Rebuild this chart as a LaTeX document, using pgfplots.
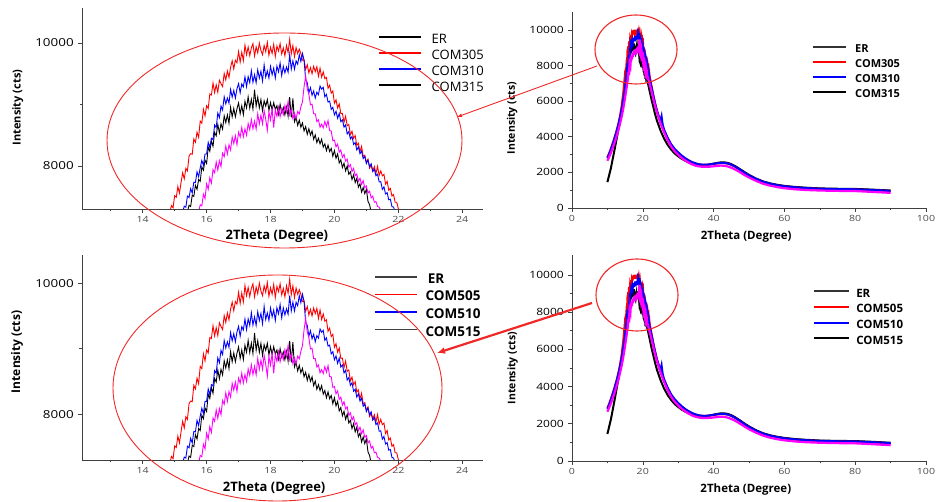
\documentclass[border=0pt]{standalone}
\usepackage{fontspec}
\setmainfont{Open Sans}
\usepackage{pgfplots}
\usepackage{pgfplotstable}
\pgfplotsset{compat=1.18}
\usetikzlibrary{arrows.meta}

% ---------- zoomed data (15-22 deg) ----------
\pgfplotstableread[row sep=\\]{
x y \\
14.85 7250 \\ 14.90 7355 \\ 14.95 7320 \\ 15.00 7515 \\ 15.05 7490 \\ 15.10 7665 \\ 15.15 7560 \\ 15.20 7730 \\
15.25 7890 \\ 15.30 7790 \\ 15.35 7960 \\ 15.40 7920 \\ 15.45 8160 \\ 15.50 8200 \\ 15.55 8190 \\ 15.60 8440 \\
15.65 8385 \\ 15.70 8550 \\ 15.75 8465 \\ 15.80 8730 \\ 15.85 8695 \\ 15.90 8920 \\ 15.95 8815 \\ 16.00 8980 \\
16.05 8935 \\ 16.10 9170 \\ 16.15 9155 \\ 16.20 9350 \\ 16.25 9195 \\ 16.30 9320 \\ 16.35 9200 \\ 16.40 9395 \\
16.45 9340 \\ 16.50 9290 \\ 16.55 9505 \\ 16.60 9400 \\ 16.65 9545 \\ 16.70 9440 \\ 16.75 9605 \\ 16.80 9710 \\
16.85 9580 \\ 16.90 9720 \\ 16.95 9680 \\ 17.00 9860 \\ 17.05 9690 \\ 17.10 9850 \\ 17.15 9715 \\ 17.20 9965 \\
17.25 9810 \\ 17.30 9935 \\ 17.35 9795 \\ 17.40 9920 \\ 17.45 9990 \\ 17.50 9790 \\ 17.55 9940 \\ 17.60 9840 \\
17.65 10000 \\ 17.70 9880 \\ 17.75 9810 \\ 17.80 9960 \\ 17.85 9860 \\ 17.90 10010 \\ 17.95 9800 \\ 18.00 9930 \\
18.05 9830 \\ 18.10 9980 \\ 18.15 9780 \\ 18.20 9950 \\ 18.25 9870 \\ 18.30 9990 \\ 18.35 9820 \\ 18.40 9920 \\
18.45 9790 \\ 18.50 9960 \\ 18.55 9845 \\ 18.60 10060 \\ 18.65 9825 \\ 18.70 9960 \\ 18.75 9780 \\ 18.80 9925 \\
18.85 9830 \\ 18.90 9900 \\ 18.95 9830 \\ 19.00 9720 \\ 19.05 9725 \\ 19.10 9570 \\ 19.15 9645 \\ 19.20 9515 \\
19.25 9600 \\ 19.30 9500 \\ 19.35 9620 \\ 19.40 9535 \\ 19.45 9615 \\ 19.50 9460 \\ 19.55 9590 \\ 19.60 9445 \\
19.65 9530 \\ 19.70 9420 \\ 19.75 9440 \\ 19.80 9265 \\ 19.85 9315 \\ 19.90 9185 \\ 19.95 9220 \\ 20.00 9020 \\
20.05 9075 \\ 20.10 8945 \\ 20.15 9010 \\ 20.20 8850 \\ 20.25 8855 \\ 20.30 8710 \\ 20.35 8810 \\ 20.40 8655 \\
20.45 8675 \\ 20.50 8510 \\ 20.55 8565 \\ 20.60 8450 \\ 20.65 8495 \\ 20.70 8335 \\ 20.75 8370 \\ 20.80 8235 \\
20.85 8320 \\ 20.90 8160 \\ 20.95 8175 \\ 21.00 8060 \\ 21.05 8110 \\ 21.10 7965 \\ 21.15 8015 \\ 21.20 7920 \\
21.25 7990 \\ 21.30 7880 \\ 21.35 7995 \\ 21.40 7845 \\ 21.45 7920 \\ 21.50 7840 \\ 21.55 7865 \\ 21.60 7705 \\
21.65 7750 \\ 21.70 7605 \\ 21.75 7635 \\ 21.80 7510 \\ 21.85 7535 \\ 21.90 7410 \\ 21.95 7410 \\ 22.00 7305 \\
22.05 7280 \\
}\redZ

\pgfplotstableread[row sep=\\]{
x y \\
15.25 7250 \\ 15.30 7345 \\ 15.35 7330 \\ 15.40 7510 \\ 15.45 7485 \\ 15.50 7630 \\ 15.55 7560 \\ 15.60 7735 \\
15.65 7730 \\ 15.70 7905 \\ 15.75 7825 \\ 15.80 7970 \\ 15.85 8090 \\ 15.90 8010 \\ 15.95 8195 \\ 16.00 8195 \\
16.05 8385 \\ 16.10 8300 \\ 16.15 8450 \\ 16.20 8430 \\ 16.25 8665 \\ 16.30 8625 \\ 16.35 8860 \\ 16.40 8785 \\
16.45 8975 \\ 16.50 8910 \\ 16.55 9125 \\ 16.60 9010 \\ 16.65 9105 \\ 16.70 9020 \\ 16.75 9245 \\ 16.80 9120 \\
16.85 9230 \\ 16.90 9105 \\ 16.95 9255 \\ 17.00 9340 \\ 17.05 9190 \\ 17.10 9335 \\ 17.15 9285 \\ 17.20 9450 \\
17.25 9290 \\ 17.30 9455 \\ 17.35 9355 \\ 17.40 9550 \\ 17.45 9360 \\ 17.50 9485 \\ 17.55 9355 \\ 17.60 9565 \\
17.65 9430 \\ 17.70 9540 \\ 17.75 9380 \\ 17.80 9645 \\ 17.85 9445 \\ 17.90 9545 \\ 17.95 9430 \\ 18.00 9620 \\
18.05 9485 \\ 18.10 9590 \\ 18.15 9430 \\ 18.20 9625 \\ 18.25 9530 \\ 18.30 9675 \\ 18.35 9470 \\ 18.40 9620 \\
18.45 9515 \\ 18.50 9610 \\ 18.55 9525 \\ 18.60 9810 \\ 18.65 9575 \\ 18.70 9710 \\ 18.75 9575 \\ 18.80 9710 \\
18.85 9655 \\ 18.90 9810 \\ 18.95 9700 \\ 19.00 9830 \\ 19.05 9720 \\ 19.10 9400 \\ 19.15 9355 \\ 19.20 9190 \\
19.25 9275 \\ 19.30 9150 \\ 19.35 9220 \\ 19.40 9105 \\ 19.45 9200 \\ 19.50 9160 \\ 19.55 9300 \\ 19.60 9250 \\
19.65 9280 \\ 19.70 9125 \\ 19.75 9165 \\ 19.80 9040 \\ 19.85 9055 \\ 19.90 8920 \\ 19.95 8955 \\ 20.00 8830 \\
20.05 8890 \\ 20.10 8775 \\ 20.15 8855 \\ 20.20 8720 \\ 20.25 8750 \\ 20.30 8630 \\ 20.35 8670 \\ 20.40 8520 \\
20.45 8560 \\ 20.50 8440 \\ 20.55 8480 \\ 20.60 8350 \\ 20.65 8380 \\ 20.70 8260 \\ 20.75 8310 \\ 20.80 8200 \\
20.85 8245 \\ 20.90 8120 \\ 20.95 8155 \\ 21.00 8040 \\ 21.05 8095 \\ 21.10 7990 \\ 21.15 8035 \\ 21.20 7910 \\
21.25 7945 \\ 21.30 7840 \\ 21.35 7865 \\ 21.40 7740 \\ 21.45 7745 \\ 21.50 7620 \\ 21.55 7660 \\ 21.60 7545 \\
21.65 7565 \\ 21.70 7450 \\ 21.75 7460 \\ 21.80 7340 \\ 21.85 7330 \\ 21.90 7250 \\
}\blueZ

\pgfplotstableread[row sep=\\]{
x y \\
15.40 7250 \\ 15.45 7360 \\ 15.50 7340 \\ 15.55 7525 \\ 15.60 7505 \\ 15.65 7685 \\ 15.70 7620 \\ 15.75 7780 \\
15.80 7750 \\ 15.85 7985 \\ 15.90 7930 \\ 15.95 8095 \\ 16.00 8040 \\ 16.05 8305 \\ 16.10 8240 \\ 16.15 8405 \\
16.20 8320 \\ 16.25 8545 \\ 16.30 8490 \\ 16.35 8675 \\ 16.40 8540 \\ 16.45 8685 \\ 16.50 8600 \\ 16.55 8815 \\
16.60 8705 \\ 16.65 8830 \\ 16.70 8695 \\ 16.75 8955 \\ 16.80 8800 \\ 16.85 8935 \\ 16.90 8800 \\ 16.95 8930 \\
17.00 9025 \\ 17.05 8850 \\ 17.10 8980 \\ 17.15 8835 \\ 17.20 9050 \\ 17.25 8945 \\ 17.30 9125 \\ 17.35 8940 \\
17.40 9085 \\ 17.45 8925 \\ 17.50 9240 \\ 17.55 8975 \\ 17.60 9120 \\ 17.65 8945 \\ 17.70 9080 \\ 17.75 8895 \\
17.80 9060 \\ 17.85 8975 \\ 17.90 9080 \\ 17.95 8905 \\ 18.00 9030 \\ 18.05 8910 \\ 18.10 9030 \\ 18.15 8920 \\
18.20 8980 \\ 18.25 8840 \\ 18.30 9000 \\ 18.35 8870 \\ 18.40 8950 \\ 18.45 8830 \\ 18.50 8960 \\ 18.55 8810 \\
18.60 9120 \\ 18.65 8790 \\ 18.70 9100 \\ 18.75 8720 \\ 18.80 8790 \\ 18.85 8660 \\ 18.90 8745 \\ 18.95 8630 \\
19.00 8700 \\ 19.05 8570 \\ 19.10 8640 \\ 19.15 8515 \\ 19.20 8605 \\ 19.25 8500 \\ 19.30 8570 \\ 19.35 8435 \\
19.40 8505 \\ 19.45 8380 \\ 19.50 8450 \\ 19.55 8360 \\ 19.60 8435 \\ 19.65 8305 \\ 19.70 8360 \\ 19.75 8250 \\
19.80 8340 \\ 19.85 8235 \\ 19.90 8285 \\ 19.95 8160 \\ 20.00 8250 \\ 20.05 8125 \\ 20.10 8195 \\ 20.15 8050 \\
20.20 8100 \\ 20.25 7975 \\ 20.30 8045 \\ 20.35 7920 \\ 20.40 8000 \\ 20.45 7865 \\ 20.50 7905 \\ 20.55 7780 \\
20.60 7855 \\ 20.65 7730 \\ 20.70 7800 \\ 20.75 7655 \\ 20.80 7710 \\ 20.85 7575 \\ 20.90 7650 \\ 20.95 7550 \\
21.00 7620 \\ 21.05 7425 \\ 21.10 7370 \\ 21.15 7250 \\
}\erZ

\pgfplotstableread[row sep=\\]{
x y \\
15.75 7250 \\ 15.80 7370 \\ 15.85 7350 \\ 15.90 7540 \\ 15.95 7470 \\ 16.00 7710 \\ 16.05 7620 \\ 16.10 7810 \\
16.15 7720 \\ 16.20 7940 \\ 16.25 7890 \\ 16.30 8065 \\ 16.35 7935 \\ 16.40 8085 \\ 16.45 7990 \\ 16.50 8210 \\
16.55 8150 \\ 16.60 8325 \\ 16.65 8195 \\ 16.70 8345 \\ 16.75 8260 \\ 16.80 8470 \\ 16.85 8365 \\ 16.90 8490 \\
16.95 8345 \\ 17.00 8550 \\ 17.05 8470 \\ 17.10 8625 \\ 17.15 8475 \\ 17.20 8605 \\ 17.25 8500 \\ 17.30 8690 \\
17.35 8590 \\ 17.40 8755 \\ 17.45 8605 \\ 17.50 8730 \\ 17.55 8600 \\ 17.60 8850 \\ 17.65 8685 \\ 17.70 8825 \\
17.75 8685 \\ 17.80 8900 \\ 17.85 8760 \\ 17.90 8580 \\ 17.95 8880 \\ 18.00 8750 \\ 18.05 8925 \\ 18.10 8625 \\
18.15 8910 \\ 18.20 8805 \\ 18.25 8955 \\ 18.30 8800 \\ 18.35 8930 \\ 18.40 8835 \\ 18.45 8985 \\ 18.50 8880 \\
18.55 9050 \\ 18.60 8830 \\ 18.65 8920 \\ 18.70 8770 \\ 18.75 8860 \\ 18.80 8770 \\ 18.85 8885 \\ 18.90 8845 \\
18.95 8960 \\ 19.00 9045 \\ 19.05 9290 \\ 19.10 9460 \\ 19.15 9255 \\ 19.20 9170 \\ 19.25 8995 \\ 19.30 9005 \\
19.35 8850 \\ 19.40 8850 \\ 19.45 8720 \\ 19.50 8750 \\ 19.55 8630 \\ 19.60 8680 \\ 19.65 8620 \\ 19.70 8725 \\
19.75 8640 \\ 19.80 8740 \\ 19.85 8575 \\ 19.90 8570 \\ 19.95 8410 \\ 20.00 8420 \\ 20.05 8310 \\ 20.10 8355 \\
20.15 8225 \\ 20.20 8260 \\ 20.25 8140 \\ 20.30 8190 \\ 20.35 8080 \\ 20.40 8110 \\ 20.45 7980 \\ 20.50 8020 \\
20.55 7910 \\ 20.60 7960 \\ 20.65 7840 \\ 20.70 7870 \\ 20.75 7750 \\ 20.80 7800 \\ 20.85 7700 \\ 20.90 7760 \\
20.95 7645 \\ 21.00 7675 \\ 21.05 7560 \\ 21.10 7590 \\ 21.15 7480 \\ 21.20 7510 \\ 21.25 7410 \\ 21.30 7420 \\
21.35 7340 \\ 21.40 7330 \\ 21.45 7280 \\
}\magZ

% ---------- full-range data (outside the zoomed window) ----------
\pgfplotstableread[row sep=\\]{
x y \\
10 2850 \\ 10.5 3080 \\ 11 3350 \\ 11.5 3640 \\ 12 3950 \\ 12.5 4280 \\ 13 4650 \\ 13.5 5100 \\ 14 5700 \\ 14.5 6500 \\ 14.85 7250 \\
18 nan \\
22.05 7280 \\ 22.5 6800 \\ 23 6300 \\ 23.5 5850 \\ 24 5450 \\ 25 4850 \\ 26 4350 \\ 27 3900 \\ 28 3550 \\ 29 3300 \\ 30 3100 \\
31 2920 \\ 32 2780 \\ 33 2660 \\ 34 2560 \\ 35 2490 \\ 36 2440 \\ 37 2420 \\ 38 2420 \\ 39 2440 \\ 40 2470 \\ 41 2500 \\
42 2520 \\ 43 2520 \\ 44 2490 \\ 45 2420 \\ 46 2320 \\ 47 2200 \\ 48 2070 \\ 49 1940 \\ 50 1820 \\ 52 1620 \\ 54 1460 \\
56 1350 \\ 58 1270 \\ 60 1210 \\ 63 1150 \\ 66 1110 \\ 70 1070 \\ 75 1050 \\ 80 1040 \\ 85 1000 \\ 90 950 \\
}\redC

\pgfplotstableread[row sep=\\]{
x y \\
10 2800 \\ 10.5 3030 \\ 11 3300 \\ 11.5 3590 \\ 12 3900 \\ 12.5 4230 \\ 13 4600 \\ 13.5 5020 \\ 14 5500 \\ 14.5 6100 \\ 15 6800 \\ 15.25 7250 \\
18 nan \\
21.9 7250 \\ 22.5 6750 \\ 23 6280 \\ 23.5 5850 \\ 24 5460 \\ 24.5 5150 \\ 25 4900 \\ 25.3 5150 \\ 25.6 4700 \\ 26 4400 \\
27 3950 \\ 28 3580 \\ 29 3320 \\ 30 3120 \\ 31 2940 \\ 32 2790 \\ 33 2670 \\ 34 2570 \\ 35 2500 \\ 36 2450 \\ 37 2430 \\
38 2430 \\ 39 2450 \\ 40 2480 \\ 41 2510 \\ 42 2530 \\ 43 2530 \\ 44 2500 \\ 45 2430 \\ 46 2330 \\ 47 2210 \\ 48 2080 \\
49 1950 \\ 50 1830 \\ 52 1630 \\ 54 1470 \\ 56 1360 \\ 58 1280 \\ 60 1220 \\ 63 1160 \\ 66 1120 \\ 70 1080 \\ 75 1060 \\
80 1050 \\ 85 1010 \\ 90 960 \\
}\blueC

\pgfplotstableread[row sep=\\]{
x y \\
10 1450 \\ 10.5 1850 \\ 11 2250 \\ 11.5 2750 \\ 12 3250 \\ 12.5 3770 \\ 13 4300 \\ 13.5 4850 \\ 14 5450 \\ 14.5 6100 \\ 15 6750 \\ 15.4 7250 \\
18 nan \\
21.15 7250 \\ 21.5 6950 \\ 22 6500 \\ 22.5 6050 \\ 23 5650 \\ 23.5 5250 \\ 24 4900 \\ 25 4350 \\ 26 3900 \\ 27 3550 \\
28 3280 \\ 29 3060 \\ 30 2900 \\ 31 2760 \\ 32 2650 \\ 33 2560 \\ 34 2490 \\ 35 2440 \\ 36 2420 \\ 37 2410 \\ 38 2420 \\
39 2450 \\ 40 2490 \\ 41 2530 \\ 42 2560 \\ 43 2560 \\ 44 2530 \\ 45 2460 \\ 46 2360 \\ 47 2240 \\ 48 2110 \\ 49 1980 \\
50 1860 \\ 52 1650 \\ 54 1490 \\ 56 1380 \\ 58 1300 \\ 60 1240 \\ 63 1180 \\ 66 1140 \\ 70 1100 \\ 75 1080 \\ 80 1070 \\
85 1030 \\ 90 980 \\
}\erC

\pgfplotstableread[row sep=\\]{
x y \\
10 2650 \\ 10.5 2870 \\ 11 3100 \\ 11.5 3370 \\ 12 3650 \\ 12.5 3960 \\ 13 4300 \\ 13.5 4680 \\ 14 5100 \\ 14.5 5600 \\ 15 6200 \\ 15.5 6850 \\ 15.75 7250 \\
18 nan \\
21.45 7280 \\ 22 6900 \\ 22.5 6500 \\ 23 6100 \\ 23.5 5700 \\ 24 5350 \\ 25 4750 \\ 26 4250 \\ 27 3800 \\ 28 3450 \\
29 3180 \\ 30 2980 \\ 31 2800 \\ 32 2660 \\ 33 2540 \\ 34 2440 \\ 35 2370 \\ 36 2330 \\ 37 2310 \\ 38 2310 \\ 39 2320 \\
40 2340 \\ 41 2360 \\ 42 2380 \\ 43 2370 \\ 44 2330 \\ 45 2260 \\ 46 2170 \\ 47 2060 \\ 48 1940 \\ 49 1820 \\ 50 1710 \\
52 1520 \\ 54 1360 \\ 56 1250 \\ 58 1170 \\ 60 1110 \\ 63 1050 \\ 66 1010 \\ 70 980 \\ 75 960 \\ 80 950 \\ 85 900 \\ 90 850 \\
}\magC

\definecolor{xred}{RGB}{255,0,0}
\definecolor{xblue}{RGB}{0,0,255}
\definecolor{xmag}{RGB}{255,0,255}
\definecolor{ann}{RGB}{240,40,40}

\pgfplotsset{
  common/.style={
    scale only axis, axis lines=left,
    axis line style={-, black!75, line width=0.8pt},
    tick align=outside, tick style={black!75, line width=0.6pt},
    major tick length=4pt, minor tick length=2.5pt,
    scaled y ticks=false, scaled x ticks=false,
    /pgf/number format/1000 sep={},
    /pgf/number format/assume math mode=true,
    unbounded coords=jump,
    legend cell align=left,
    legend image code/.code={\draw[##1] (0pt,0.36em) -- (\pgfkeysvalueof{/pgfplots/legline},0.36em);},
  },
  legline/.initial=42pt,
  zoomax/.style={common,
    xmin=12.1, xmax=24.65, ymin=7300,
    xtick={14,16,...,24}, minor xtick={13,15,...,23},
    ytick={8000,10000}, minor ytick={9000},
    xticklabel style={font=\fontsize{8.5}{9}\selectfont, xscale=1.25, text=black!70},
    yticklabel style={font=\fontsize{11}{12}\selectfont, xscale=1.22},
  },
  fullax/.style={common,
    xmin=0, xmax=100, ymin=0,
    xtick={0,20,...,100}, minor xtick={10,30,...,90},
    ytick={0,2000,...,10000}, minor ytick={1000,3000,...,9000},
    xticklabel style={font=\fontsize{8.5}{9}\selectfont, xscale=1.25, text=black!70},
    yticklabel style={font=\fontsize{10}{11}\selectfont, xscale=1.2},
  },
}

\begin{document}
\begin{tikzpicture}[x=1pt,y=1pt]
\path[use as bounding box] (0,0) rectangle (936,502);

% ---------------- top left (zoom) ----------------
\begin{axis}[zoomax, at={(82pt,293pt)}, anchor=south west,
  width=401pt, height=201pt, ymax=10570,
  xlabel={\textbf{2Theta (Degree)}}, ylabel={\textbf{Intensity (cts)}},
  xlabel style={font=\fontsize{13}{14}\selectfont, at={(axis description cs:0.486,-0.134)}, anchor=center},
  ylabel style={font=\fontsize{11}{12}\selectfont, at={(axis description cs:-0.160,0.505)}, anchor=center},
  legline=42pt,
  legend style={at={(0.738,0.878)}, anchor=north west, draw=none, fill=none, inner sep=0pt,
    font=\fontsize{13}{13}\selectfont, row sep=0pt,
    nodes={inner sep=0pt, text height=11pt, text depth=5pt},
    /tikz/every odd column/.append style={column sep=10pt}},
]
\addplot[black, line width=0.9pt, forget plot] table {\erZ};
\addplot[xred, line width=0.9pt, forget plot] table {\redZ};
\addplot[xblue, line width=0.9pt, forget plot] table {\blueZ};
\addplot[xmag, line width=0.9pt, forget plot] table {\magZ};
\addlegendimage{black, line width=1.6pt}\addlegendentry{ER}
\addlegendimage{xred, line width=1.6pt}\addlegendentry{COM305}
\addlegendimage{xblue, line width=1.6pt}\addlegendentry{COM310}
\addlegendimage{black, line width=1.6pt}\addlegendentry{COM315}
\end{axis}

% ---------------- top right (full) ----------------
\begin{axis}[fullax, at={(572pt,294pt)}, anchor=south west,
  width=354pt, height=196pt, ymax=11000,
  xlabel={\textbf{2Theta (Degree)}}, ylabel={\textbf{Intensity (cts)}},
  xlabel style={font=\fontsize{11.5}{12}\selectfont, at={(axis description cs:0.492,-0.148)}, anchor=center},
  ylabel style={font=\fontsize{10.5}{11}\selectfont, at={(axis description cs:-0.169,0.459)}, anchor=center},
  legline=33pt,
  legend style={at={(0.678,0.844)}, anchor=north west, draw=none, fill=none, inner sep=0pt,
    font=\fontsize{11}{11}\selectfont\bfseries, row sep=0pt,
    nodes={inner sep=0pt, text height=9.5pt, text depth=5.5pt},
    /tikz/every odd column/.append style={column sep=8pt}},
]
\addplot[black, line width=2pt, forget plot] table {\erC};
\addplot[black, line width=2pt, forget plot] table {\erZ};
\addplot[xred, line width=2pt, forget plot] table {\redC};
\addplot[xred, line width=2pt, forget plot] table {\redZ};
\addplot[xblue, line width=2pt, forget plot] table {\blueC};
\addplot[xblue, line width=2pt, forget plot] table {\blueZ};
\addplot[xmag, line width=2.2pt, forget plot] table {\magC};
\addplot[xmag, line width=2.2pt, forget plot] table {\magZ};
\addlegendimage{black!80, line width=2pt}\addlegendentry{ER}
\addlegendimage{xred, line width=2pt}\addlegendentry{COM305}
\addlegendimage{xblue, line width=2pt}\addlegendentry{COM310}
\addlegendimage{black, line width=2pt}\addlegendentry{COM315}
\end{axis}

% ---------------- bottom left (zoom) ----------------
\begin{axis}[zoomax, at={(82pt,42pt)}, anchor=south west,
  width=401pt, height=205pt, ymax=10430,
  xlabel={\textbf{2Theta (Degree)}}, ylabel={\textbf{Intensity (cts)}},
  xlabel style={font=\fontsize{13}{14}\selectfont, at={(axis description cs:0.479,-0.137)}, anchor=center},
  ylabel style={font=\fontsize{12}{13}\selectfont, at={(axis description cs:-0.162,0.527)}, anchor=center},
  legline=42pt,
  legend style={at={(0.728,0.919)}, anchor=north west, draw=none, fill=none, inner sep=0pt,
    font=\fontsize{13.5}{13.5}\selectfont\bfseries, row sep=0pt,
    nodes={inner sep=0pt, text height=11.5pt, text depth=6.1pt},
    /tikz/every odd column/.append style={column sep=8pt}},
]
\addplot[black, line width=0.9pt, forget plot] table {\erZ};
\addplot[xred, line width=0.9pt, forget plot] table {\redZ};
\addplot[xblue, line width=0.9pt, forget plot] table {\blueZ};
\addplot[xmag, line width=0.9pt, forget plot] table {\magZ};
\addlegendimage{black!75, line width=1.4pt}\addlegendentry{\,ER}
\addlegendimage{xred, line width=1.4pt}\addlegendentry{COM505}
\addlegendimage{xblue, line width=1.4pt}\addlegendentry{COM510}
\addlegendimage{black!75, line width=1.4pt}\addlegendentry{COM515}
\end{axis}

% ---------------- bottom right (full) ----------------
\begin{axis}[fullax, at={(572pt,41pt)}, anchor=south west,
  width=354pt, height=206pt, ymax=11070,
  xlabel={\textbf{2Theta (Degree)}}, ylabel={\textbf{Intensity (cts)}},
  xlabel style={font=\fontsize{11.5}{12}\selectfont, at={(axis description cs:0.491,-0.136)}, anchor=center},
  ylabel style={font=\fontsize{10.5}{11}\selectfont, at={(axis description cs:-0.168,0.451)}, anchor=center},
  legline=35pt,
  legend style={at={(0.681,0.845)}, anchor=north west, draw=none, fill=none, inner sep=0pt,
    font=\fontsize{11.5}{11.5}\selectfont\bfseries, row sep=0pt,
    nodes={inner sep=0pt, text height=10pt, text depth=5.7pt},
    /tikz/every odd column/.append style={column sep=6pt}},
]
\addplot[black, line width=2pt, forget plot] table {\erC};
\addplot[black, line width=2pt, forget plot] table {\erZ};
\addplot[xred, line width=2pt, forget plot] table {\redC};
\addplot[xred, line width=2pt, forget plot] table {\redZ};
\addplot[xblue, line width=2pt, forget plot] table {\blueC};
\addplot[xblue, line width=2pt, forget plot] table {\blueZ};
\addplot[xmag, line width=2.2pt, forget plot] table {\magC};
\addplot[xmag, line width=2.2pt, forget plot] table {\magZ};
\addlegendimage{black!80, line width=2pt}\addlegendentry{ER}
\addlegendimage{xred, line width=2pt}\addlegendentry{COM505}
\addlegendimage{xblue, line width=2pt}\addlegendentry{COM510}
\addlegendimage{black, line width=2pt}\addlegendentry{COM515}
\end{axis}

% ---------------- annotations ----------------
\draw[ann, line width=0.9pt] (284.5,361.5) ellipse [x radius=177.5, y radius=107.5];
\draw[ann, line width=1.1pt] (636,452.5) ellipse [x radius=41, y radius=34.5];
\draw[ann, line width=0.9pt] (277.5,114) ellipse [x radius=164.5, y radius=113];
\draw[ann, line width=1.1pt] (637,207) ellipse [x radius=41, y radius=36];
\draw[ann, line width=0.9pt, -{Latex[length=5pt,width=4pt]}] (597,436) -- (457,385);
\draw[ann, line width=2.2pt, -{Latex[length=8pt,width=7pt]}] (592,199) -- (437,149);
\end{tikzpicture}
\end{document}
